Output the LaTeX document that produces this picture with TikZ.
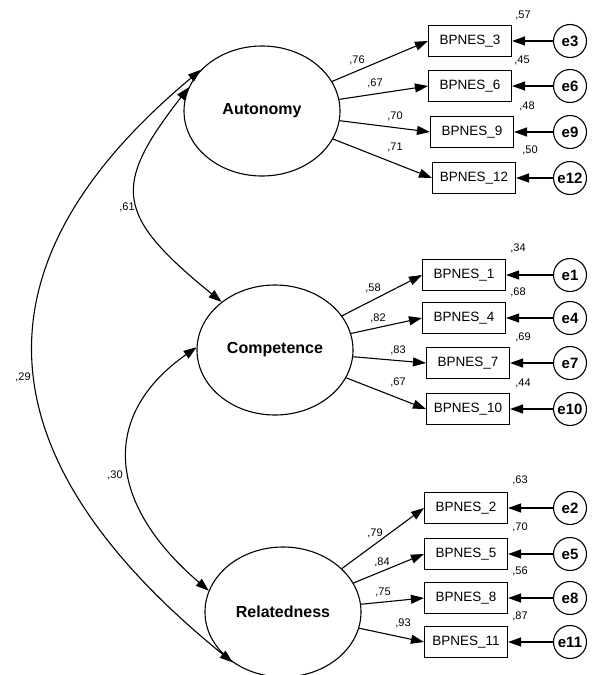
\documentclass[tikz,border=0pt]{standalone}
\usepackage{fontspec}
\setmainfont{Liberation Sans}
\usetikzlibrary{arrows.meta,shapes.geometric}
\begin{document}
\begin{tikzpicture}[x=1pt,y=-1pt,
 lat/.style={ellipse,draw,line width=1.1pt,minimum width=156pt,minimum height=130pt,inner sep=0pt,font=\fontsize{16}{18}\selectfont\bfseries},
 obs/.style={rectangle,draw,line width=1.1pt,minimum width=83pt,minimum height=31pt,inner sep=0pt,font=\fontsize{13.5}{15}\selectfont},
 err/.style={circle,draw,line width=1.1pt,minimum size=33pt,inner sep=0pt,font=\fontsize{15}{17}\selectfont\bfseries},
 num/.style={font=\fontsize{11}{13}\selectfont,inner sep=0pt},
 load/.style={line width=1.1pt,-{Triangle[length=13pt,width=9pt]}},
 cov/.style={line width=1.1pt,{Triangle[length=13pt,width=9pt]}-{Triangle[length=13pt,width=9pt]}}]
\useasboundingbox[fill=white] (0,0) rectangle (593,675);

% latent variables
\node[lat] (auto) at (262,111) {Autonomy};
\node[lat] (comp) at (275,350) {Competence};
\node[lat] (rel)  at (283,612) {Relatedness};

% observed variables
\node[obs] (b3)  at (470,41)  {BPNES\_3};
\node[obs] (b6)  at (470,86)  {BPNES\_6};
\node[obs] (b9)  at (472,132) {BPNES\_9};
\node[obs] (b12) at (474,178) {BPNES\_12};
\node[obs] (b1)  at (464,275) {BPNES\_1};
\node[obs] (b4)  at (464,318) {BPNES\_4};
\node[obs] (b7)  at (468,363) {BPNES\_7};
\node[obs] (b10) at (468,409) {BPNES\_10};
\node[obs] (b2)  at (466,508) {BPNES\_2};
\node[obs] (b5)  at (466,554) {BPNES\_5};
\node[obs] (b8)  at (466,598) {BPNES\_8};
\node[obs] (b11) at (466,642) {BPNES\_11};

% errors
\node[err] (e3)  at (570,41)  {e3};
\node[err] (e6)  at (570,86)  {e6};
\node[err] (e9)  at (570,132) {e9};
\node[err] (e12) at (570,178) {e12};
\node[err] (e1)  at (570,275) {e1};
\node[err] (e4)  at (570,318) {e4};
\node[err] (e7)  at (570,363) {e7};
\node[err] (e10) at (570,409) {e10};
\node[err] (e2)  at (570,508) {e2};
\node[err] (e5)  at (570,554) {e5};
\node[err] (e8)  at (570,598) {e8};
\node[err] (e11) at (570,642) {e11};

% loadings
\foreach \l/\b in {auto/b3,auto/b6,auto/b9,auto/b12,comp/b1,comp/b4,comp/b7,comp/b10,rel/b2,rel/b5,rel/b8,rel/b11}
  \draw[load] (\l) -- (\b.west);
% error arrows
\foreach \e/\b in {e3/b3,e6/b6,e9/b9,e12/b12,e1/b1,e4/b4,e7/b7,e10/b10,e2/b2,e5/b5,e8/b8,e11/b11}
  \draw[load] (\e) -- (\b.east);

% covariances
\draw[cov] (auto.162) .. controls +(-77,99) and +(-107,-87) .. (comp.138);
\draw[cov] (comp.178) .. controls +(-94,66) and +(-105,-90) .. (rel.164);
\draw[cov] (auto.146) .. controls +(-228,190) and +(-259,-210) .. (rel.225);

% numbers
\node[num] (r3)  at (523,15)  {,57};
\node[num] (r6)  at (522,60)  {,45};
\node[num] (r9)  at (527,106) {,48};
\node[num] (r12) at (530,150) {,50};
\node[num] (l3)  at (357,60)  {,76};
\node[num] (l6)  at (375,83)  {,67};
\node[num] (l9)  at (395,116) {,70};
\node[num] (l12) at (395,147) {,71};
\node[num] (r1)  at (518,248) {,34};
\node[num] (r4)  at (518,292) {,68};
\node[num] (r7)  at (523,337) {,69};
\node[num] (r10) at (523,383) {,44};
\node[num] (l1)  at (373,288) {,58};
\node[num] (l4)  at (378,318) {,82};
\node[num] (l7)  at (398,350) {,83};
\node[num] (l10) at (398,382) {,67};
\node[num] (r2)  at (520,480) {,63};
\node[num] (r5)  at (520,527) {,70};
\node[num] (r8)  at (520,571) {,56};
\node[num] (r11) at (520,616) {,87};
\node[num] (l2)  at (375,533) {,79};
\node[num] (l5)  at (382,562) {,84};
\node[num] (l8)  at (383,592) {,75};
\node[num] (l11) at (403,623) {,93};
\node[num] (c1)  at (127,207) {,61};
\node[num] (c2)  at (115,475) {,30};
\node[num] (c3)  at (23,377)  {,29};
\end{tikzpicture}
\end{document}
